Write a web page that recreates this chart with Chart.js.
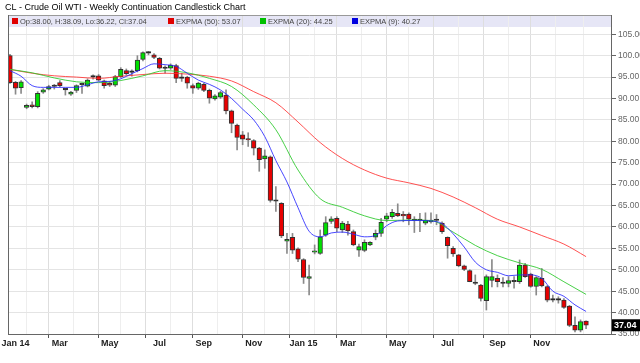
<!DOCTYPE html>
<html>
<head>
<meta charset="utf-8">
<title>CL - Crude Oil WTI - Weekly Continuation Candlestick Chart</title>
<script src="https://cdn.jsdelivr.net/npm/chart.js@4.4.0/dist/chart.umd.min.js"></script>
<style>
    html, body { margin: 0; padding: 0; background: #fff; }
    #wrap { width: 640px; height: 363px; position: relative; }
</style>
</head>
<body>
<div id="wrap"><canvas id="chart" width="640" height="363"></canvas></div>
<script>
    "use strict";

    // Weekly candles, index 0 = week of 30 Dec 2013
    var opens = [
        100.0, 93.8, 92.5, 87.9, 88.5, 88.1, 91.5, 92.2, 92.8, 93.7,
        92.0, 91.0, 91.9, 93.2, 92.9, 95.0, 95.3, 94.1, 93.6, 93.1,
        95.1, 96.5, 96.1, 96.5, 99.1, 100.6, 100.2, 99.4, 97.0, 97.1,
        97.7, 94.7, 95.0, 93.0, 92.4, 93.3, 91.9, 89.9, 90.3, 90.8,
        87.1, 83.8, 81.5, 80.6, 80.2, 78.4, 75.9, 76.4, 66.0, 65.5,
        56.7, 57.6, 54.9, 52.4, 48.0, 54.1, 53.8, 58.1, 61.3, 62.0,
        59.3, 60.7, 58.9, 54.6, 54.5, 55.8, 57.6, 58.5, 61.8, 62.4,
        63.2, 62.8, 63.0, 61.5, 61.5, 60.9, 61.2, 61.5, 60.9, 57.6,
        55.0, 53.5, 50.9, 49.8, 46.8, 46.4, 42.8, 47.5, 48.0, 46.8,
        46.8, 47.2, 47.2, 51.1, 49.0, 46.1, 48.0, 46.1, 42.9, 42.9,
        42.9, 41.5, 37.0, 35.9, 38.00
    ];
    var highs = [
        100.3, 94.0, 94.2, 88.7, 89.2, 91.6, 92.3, 93.1, 93.3, 94.2,
        92.4, 91.7, 93.2, 93.6, 94.6, 95.5, 95.6, 94.3, 94.0, 95.4,
        97.2, 96.9, 96.7, 100.0, 100.9, 101.0, 100.5, 99.6, 97.6, 98.1,
        98.0, 95.9, 95.2, 93.4, 93.8, 93.6, 92.2, 90.9, 91.7, 92.0,
        87.3, 84.0, 82.3, 82.0, 80.4, 78.6, 78.0, 76.6, 69.4, 65.7,
        58.5, 58.5, 55.1, 52.6, 51.1, 55.8, 59.3, 62.4, 62.4, 62.4,
        61.3, 61.3, 59.3, 56.0, 57.0, 56.6, 59.3, 62.0, 63.2, 64.1,
        65.4, 63.6, 63.3, 62.4, 63.2, 63.3, 63.3, 62.9, 61.2, 57.7,
        55.4, 53.6, 51.1, 50.0, 48.8, 46.6, 48.8, 52.4, 48.8, 48.2,
        48.4, 48.4, 52.3, 51.5, 49.2, 48.4, 50.3, 46.3, 44.1, 43.7,
        43.3, 41.7, 39.0, 38.3, 38.09
    ];
    var lows = [
        93.5, 91.0, 91.2, 87.6, 87.8, 87.8, 91.2, 92.0, 92.2, 92.7,
        90.8, 90.7, 91.4, 91.2, 92.7, 94.5, 94.1, 92.4, 92.8, 92.8,
        94.9, 95.5, 95.2, 96.2, 98.8, 100.2, 99.3, 96.9, 95.9, 96.8,
        93.7, 94.0, 92.4, 91.2, 92.1, 91.6, 88.9, 89.6, 90.0, 86.4,
        82.0, 78.0, 79.2, 78.8, 76.8, 73.0, 73.7, 65.8, 63.6, 57.5,
        53.8, 53.8, 51.9, 46.8, 44.1, 53.7, 53.6, 57.8, 60.8, 58.9,
        58.7, 58.1, 55.6, 53.1, 54.2, 55.6, 57.0, 57.8, 61.2, 62.0,
        62.4, 61.2, 60.5, 58.7, 58.9, 60.5, 60.9, 60.5, 58.5, 52.7,
        53.1, 50.7, 49.8, 47.2, 46.5, 42.7, 40.6, 46.0, 46.0, 46.0,
        46.0, 45.7, 46.8, 48.2, 45.9, 44.1, 46.0, 42.5, 42.5, 42.2,
        41.0, 36.7, 35.5, 35.5, 36.22
    ];
    var closes = [
        93.7, 92.4, 93.9, 88.4, 88.1, 91.2, 92.0, 92.8, 92.9, 93.0,
        92.1, 91.5, 93.0, 93.3, 94.3, 95.1, 94.3, 93.0, 93.1, 95.1,
        96.8, 95.8, 96.2, 99.0, 100.7, 100.7, 99.6, 97.1, 97.1, 97.8,
        94.7, 94.8, 93.6, 92.4, 93.6, 91.9, 90.1, 90.6, 91.4, 87.1,
        84.2, 80.9, 80.5, 80.3, 78.4, 75.7, 76.6, 66.2, 66.1, 57.9,
        57.1, 54.6, 52.5, 48.2, 48.4, 54.4, 57.7, 61.0, 61.9, 59.7,
        60.9, 59.1, 55.8, 55.4, 56.4, 56.4, 58.5, 61.1, 62.6, 63.4,
        62.6, 62.6, 61.8, 61.6, 61.6, 61.6, 61.6, 61.6, 58.9, 55.6,
        53.7, 50.9, 50.1, 47.2, 46.9, 43.3, 48.4, 48.4, 47.2, 46.9,
        47.5, 47.3, 51.1, 48.4, 46.1, 48.2, 46.2, 42.9, 43.0, 43.0,
        41.2, 37.0, 35.9, 37.9, 37.04
    ];

    // EXPMA lines (at these week indices)
    var ema9Idx = [0, 2, 4, 6, 8, 10, 12, 14, 16, 18, 20, 22, 24, 26, 28, 30, 32, 34, 36, 38,
        40, 42, 44, 46, 48, 50, 52, 54, 56, 58, 60, 62, 64, 66, 68, 70, 72, 74, 76, 78,
        80, 82, 84, 86, 88, 90, 92, 94, 96, 98, 100, 102, 104];
    var ema9 = [96.5, 95.2, 93.0, 92.6, 92.6, 92.6, 92.6, 93.2, 93.9, 94.0, 94.6, 95.8, 97.0, 98.1,
        97.9, 97.5, 95.9, 94.3, 93.3, 92.0, 90.0, 87.5, 85.0, 81.1, 75.5, 70.5, 64.5, 59.0,
        57.7, 58.6, 58.8, 58.3, 57.7, 58.0, 60.3, 61.4, 61.5, 61.5, 61.4, 60.8, 58.4, 55.3,
        51.8, 50.0, 49.4, 48.6, 48.8, 48.8, 48.0, 45.0, 43.8, 41.8, 40.27];

    var emaSlowIdx = [0, 4, 8, 12, 16, 20, 24, 28, 32, 36, 40, 44, 48, 52, 56, 60, 64, 68,
        72, 76, 80, 84, 88, 92, 96, 100, 104];
    var ema20 = [96.8, 96.0, 94.8, 93.9, 93.7, 94.2, 95.3, 96.5, 96.0, 94.7, 92.8, 88.5, 82.7,
        73.3, 66.6, 64.6, 62.6, 61.5, 61.6, 61.5, 58.8, 55.7, 53.3, 51.6, 50.1, 47.2, 44.25];
    var ema50 = [96.8, 95.9, 95.3, 95.0, 94.7, 95.2, 95.6, 95.9, 95.7, 95.2, 94.1, 91.6, 89.0,
        84.5, 79.7, 76.0, 73.3, 71.4, 70.3, 69.0, 67.0, 64.5, 61.8, 60.0, 58.0, 56.0, 53.07];

    // Axis ticks: month grid lines (week index) and their labels
    var tickIdx = [1, 5, 9, 14, 18, 22, 27, 31, 35, 40, 44, 48, 53, 57, 61, 66, 70, 74, 79, 83, 88, 92, 96, 101];
    var tickLabels = ["Jan 14", "", "Mar", "", "May", "", "Jul", "", "Sep", "", "Nov", "",
        "Jan 15", "", "Mar", "", "May", "", "Jul", "", "Sep", "", "Nov", ""];
    var yTicks = [35, 40, 45, 50, 55, 60, 65, 70, 75, 80, 85, 90, 95, 100, 105];

    var FONT = "'Liberation Sans', Arial, sans-serif";
    var last = closes.length - 1;

    var bodyData = opens.map(function (o, i) { return {x: i, y: [o, closes[i]]}; });
    var wickData = opens.map(function (o, i) { return {x: i, y: [lows[i], highs[i]]}; });
    function toXY(idx, vals) {
        return idx.map(function (x, k) { return {x: x, y: vals[k]}; });
    }

    function bodyColor(c) {
        var i = c.dataIndex;
        if (Math.abs(closes[i] - opens[i]) < 0.15) return "#111";
        return closes[i] > opens[i] ? "#00e000" : "#e80000";
    }

    // Title, legend band, frame and last-price box
    var decor = {
        id: "decor",
        beforeDraw: function (chart) {
            var a = chart.chartArea, g = chart.ctx;
            g.save();
            g.fillStyle = "#e6e6f6";
            g.fillRect(a.left, a.top, a.right - a.left, 12);
            g.restore();
        },
        afterDraw: function (chart) {
            var a = chart.chartArea, g = chart.ctx;
            g.save();
            g.fillStyle = "#000";
            g.font = "9px " + FONT;
            g.textBaseline = "middle";
            g.fillText("CL - Crude Oil WTI - Weekly Continuation Candlestick Chart", 5, 8);

            var items = [
                ["#e00000", "Op:" + opens[last].toFixed(2) + ", H:" + highs[last].toFixed(2) +
                    ", Lo:" + lows[last].toFixed(2) + ", Cl:" + closes[last].toFixed(2), 12],
                ["#e00000", "EXPMA (50): " + ema50[ema50.length - 1].toFixed(2), 168],
                ["#00c000", "EXPMA (20): " + ema20[ema20.length - 1].toFixed(2), 260],
                ["#0000e0", "EXPMA (9): " + ema9[ema9.length - 1].toFixed(2), 352]
            ];
            g.font = "7.5px " + FONT;
            items.forEach(function (it) {
                g.fillStyle = it[0];
                g.fillRect(it[2], a.top + 3, 6, 6);
                g.fillStyle = "#444";
                g.fillText(it[1], it[2] + 8, a.top + 6.5);
            });

            g.strokeStyle = "#999";
            g.lineWidth = 1;
            g.beginPath();
            g.moveTo(a.left, a.top + 0.5);
            g.lineTo(a.right, a.top + 0.5);
            g.stroke();
            g.strokeStyle = "#666";
            g.beginPath();
            g.moveTo(a.left + 0.5, a.top);
            g.lineTo(a.left + 0.5, a.bottom);
            g.stroke();

            var py = chart.scales.y.getPixelForValue(closes[last]);
            g.fillStyle = "#000";
            g.fillRect(a.right + 1, py - 6, 640 - a.right - 1, 12);
            g.fillStyle = "#fff";
            g.font = "bold 9px " + FONT;
            g.fillText(closes[last].toFixed(2), a.right + 3, py + 0.5);
            g.restore();
        }
    };

    var chart = new Chart(document.getElementById("chart").getContext("2d"), {
        type: "bar",
        data: {
            datasets: [
                {
                    type: "line", label: "EXPMA (9)", data: toXY(ema9Idx, ema9), order: 0,
                    borderColor: "rgba(40, 40, 255, 0.85)", borderWidth: 1, pointRadius: 0,
                    cubicInterpolationMode: "monotone"
                },
                {
                    type: "line", label: "EXPMA (20)", data: toXY(emaSlowIdx, ema20), order: 0,
                    borderColor: "rgba(40, 200, 40, 0.85)", borderWidth: 1, pointRadius: 0,
                    cubicInterpolationMode: "monotone"
                },
                {
                    type: "line", label: "EXPMA (50)", data: toXY(emaSlowIdx, ema50), order: 0,
                    borderColor: "rgba(255, 50, 50, 0.85)", borderWidth: 1, pointRadius: 0,
                    cubicInterpolationMode: "monotone"
                },
                {
                    label: "body", data: bodyData, order: 1, grouped: false,
                    backgroundColor: bodyColor, borderColor: "#333", borderWidth: 1,
                    borderSkipped: false, barThickness: 4.6, minBarLength: 1.5
                },
                {
                    label: "wick", data: wickData, order: 2, grouped: false,
                    backgroundColor: "#8a8a8a", borderWidth: 0, barThickness: 1
                }
            ]
        },
        options: {
            responsive: false,
            animation: false,
            layout: {padding: {left: 8, top: 15, right: 0, bottom: 0}},
            plugins: {legend: {display: false}, tooltip: {enabled: false}, title: {display: false}},
            scales: {
                x: {
                    type: "linear", min: -0.36, max: 108.5, offset: false,
                    afterBuildTicks: function (s) { s.ticks = tickIdx.map(function (v) { return {value: v}; }); },
                    afterFit: function (s) { s.height = 29; },
                    ticks: {
                        autoSkip: false, maxRotation: 0, padding: 0, color: "#222",
                        font: {family: FONT, size: 9, weight: "bold"},
                        callback: function (v, k) { return tickLabels[k]; }
                    },
                    grid: {
                        color: function (c) { return tickLabels[c.index] ? "#dedede" : "#eeeeee"; },
                        tickColor: function (c) { return tickLabels[c.index] ? "#555" : "rgba(0,0,0,0)"; },
                        tickLength: 4
                    },
                    border: {color: "#666"}
                },
                y: {
                    position: "right", min: 35, max: 109.5,
                    afterBuildTicks: function (s) { s.ticks = yTicks.map(function (v) { return {value: v}; }); },
                    afterFit: function (s) { s.width = 29; },
                    ticks: {
                        padding: 2, color: "#666", font: {family: FONT, size: 8.5},
                        callback: function (v) { return v.toFixed(2); }
                    },
                    grid: {color: "#e4e4e4", tickColor: "#666", tickLength: 5},
                    border: {color: "#666"}
                }
            }
        },
        plugins: [decor]
    });
</script>
</body>
</html>
